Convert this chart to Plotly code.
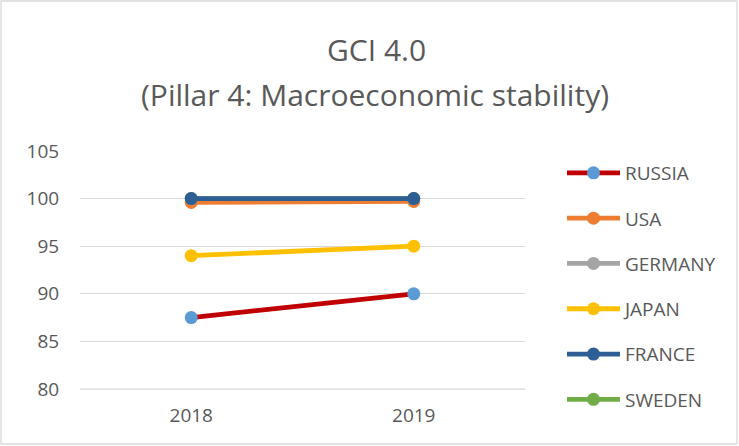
import plotly.graph_objects as go

years = ["2018", "2019"]
countries = ["RUSSIA", "USA", "GERMANY", "JAPAN", "FRANCE", "SWEDEN"]
russia = [87.5, 90.0]
usa = [99.6, 99.7]
germany = [100.0, 100.0]
japan = [94.0, 95.0]
france = [100.0, 100.0]
sweden = [100.0, 100.0]
y_ticks = [80, 85, 90, 95, 100, 105]

series = {
    "RUSSIA": russia, "USA": usa, "GERMANY": germany,
    "JAPAN": japan, "FRANCE": france, "SWEDEN": sweden,
}
line_colors = {
    "RUSSIA": "#C00000", "USA": "#ED7D31", "GERMANY": "#A5A5A5",
    "JAPAN": "#FFC000", "FRANCE": "#2E5F94", "SWEDEN": "#70AD47",
}
marker_colors = {
    "RUSSIA": "#5B9BD5", "USA": "#ED7D31", "GERMANY": "#A5A5A5",
    "JAPAN": "#FFC000", "FRANCE": "#2E5F94", "SWEDEN": "#70AD47",
}
draw_order = ["SWEDEN", "RUSSIA", "USA", "GERMANY", "JAPAN", "FRANCE"]

W, H = 739, 446
L, R, T, B = 80, 214, 150, 56
pw, ph = W - L - R, H - T - B

def px(x):
    return (x - L) / pw

def py(y):
    return (H - B - y) / ph

fig = go.Figure()
for name in draw_order:
    fig.add_trace(go.Scatter(
        x=years, y=series[name], name=name, mode="lines+markers",
        line=dict(color=line_colors[name], width=4.8),
        marker=dict(color=marker_colors[name], size=13),
        legendrank=countries.index(name) + 1,
        legendgroup=name,
    ))

fig.update_layout(
    width=W, height=H,
    margin=dict(l=L, r=R, t=T, b=B),
    paper_bgcolor="white", plot_bgcolor="white",
    font=dict(family="Open Sans, Liberation Sans, sans-serif", color="#595959", size=19),
    showlegend=True,
    legend=dict(
        x=px(562), y=py(154), xanchor="left", yanchor="top",
        traceorder="grouped", tracegroupgap=17.6, maxheight=420,
        itemwidth=53, font=dict(size=19, color="#595959"),
        bgcolor="rgba(0,0,0,0)",
    ),
    xaxis=dict(
        type="category", range=[-0.5, 1.5], showgrid=False, showline=False, zeroline=False,
        ticks="outside", ticklen=8, tickcolor="rgba(0,0,0,0)",
        tickfont=dict(size=19, color="#595959"),
    ),
    yaxis=dict(
        range=[79.9, 105.1], tickvals=y_ticks, showgrid=True, gridcolor="#D9D9D9",
        gridwidth=1.3, zeroline=False, showline=False,
        ticks="outside", ticklen=16, tickcolor="rgba(0,0,0,0)",
        tickfont=dict(size=19, color="#595959"),
    ),
    annotations=[
        dict(text="GCI 4.0", x=px(376), y=py(50), xref="paper", yref="paper",
             showarrow=False, font=dict(size=30, color="#595959"), xanchor="center", yanchor="middle"),
        dict(text="(Pillar 4: Macroeconomic stability)", x=px(375), y=py(95), xref="paper", yref="paper",
             showarrow=False, font=dict(size=30, color="#595959"), xanchor="center", yanchor="middle"),
    ],
    shapes=[
        dict(type="rect", xref="paper", yref="paper",
             x0=px(1), x1=px(737), y0=py(444), y1=py(1),
             line=dict(color="#D9D9D9", width=1.3), fillcolor="rgba(0,0,0,0)", layer="below"),
        dict(type="line", xref="paper", yref="y", x0=0, x1=1,
             y0=y_ticks[0], y1=y_ticks[0],
             line=dict(color="#D9D9D9", width=1.3), layer="below"),
    ],
)

fig.write_html("out.html", config={"displayModeBar": False},
               post_script="document.body.style.margin='0';document.body.style.overflow='hidden';")
